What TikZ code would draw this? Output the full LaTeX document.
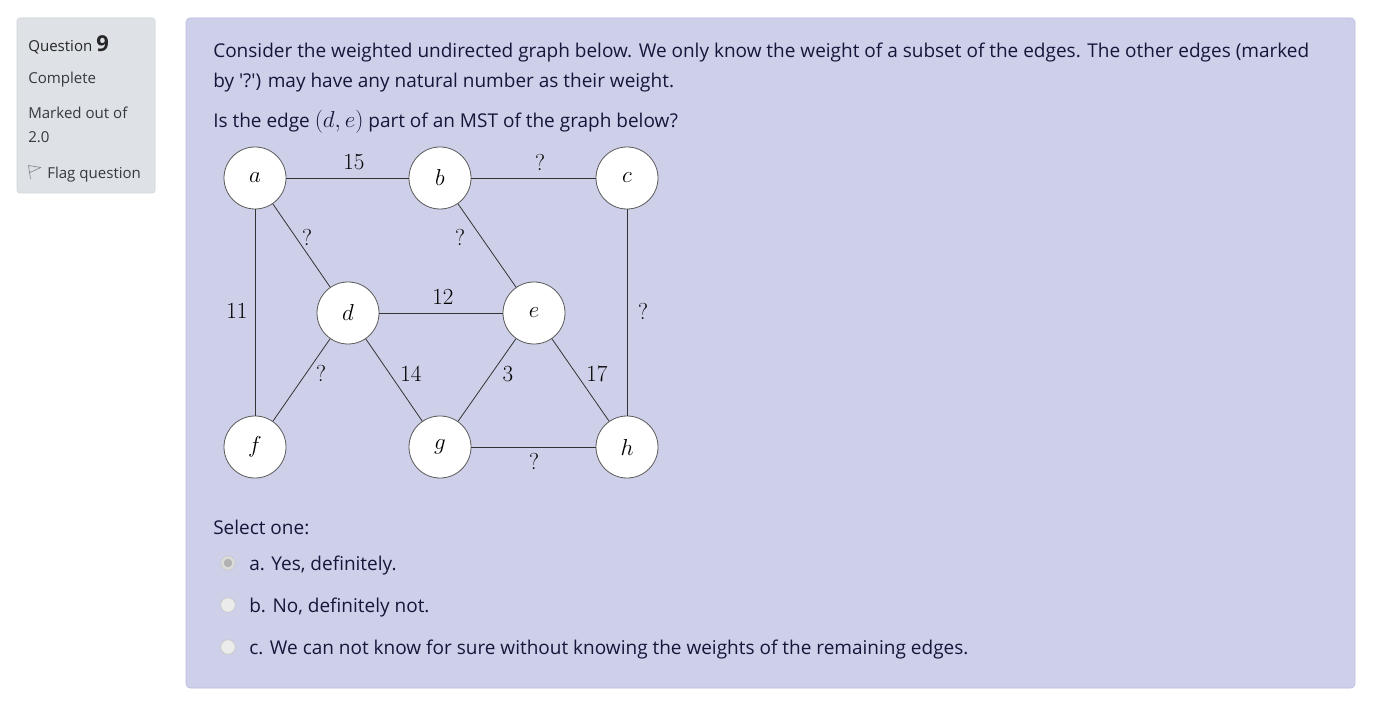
\documentclass[tikz,border=0pt]{standalone}
\usepackage[no-math]{fontspec}
\setmainfont{Open Sans}
\usetikzlibrary{positioning}

\definecolor{qpanel}{RGB}{206,208,234}
\definecolor{qpanelline}{RGB}{184,188,224}
\definecolor{infobox}{RGB}{222,226,230}
\definecolor{infoline}{RGB}{206,212,218}
\definecolor{qtext}{RGB}{22,22,58}
\definecolor{infotext}{RGB}{52,58,64}

\begin{document}
\begin{tikzpicture}[x=0.75pt,y=-0.75pt,
    vertex/.style={circle,draw=black!65,fill=white,line width=0.6pt,
                   minimum size=46.5pt,inner sep=0pt,font=\fontsize{17}{20}\selectfont},
    edge/.style={draw=black!80,line width=0.6pt},
    weight/.style={inner sep=0pt,font=\fontsize{17}{20}\selectfont},
    qline/.style={anchor=base west,inner sep=0pt,text=qtext,font=\fontsize{14.25}{17}\selectfont},
    infoline/.style={anchor=base west,inner sep=0pt,text=infotext,font=\fontsize{11.3}{13}\selectfont},
    radio/.style={circle,draw=black!22,fill=black!8,line width=0.5pt,minimum size=11pt,inner sep=0pt},
    ]

    \useasboundingbox[fill=white] (0,0) rectangle (1387,705);

    % info box on the left
    \draw[fill=infobox,draw=infoline,rounded corners=2pt] (17,18) rectangle (155,193);
    \node[infoline,text=black!85] (qnum) at (28,52) {Question \fontsize{16.5}{18}\selectfont\textbf{9}};
    \node[infoline] (state) at (28,84) {Complete};
    \node[infoline] (mark1) at (28,119) {Marked out of};
    \node[infoline] (mark2) at (28,143) {2.0};
    \draw[infotext!60,line width=0.5pt,line join=round] (30.5,179) -- (28.5,165.5) -- (41,167.5) -- (30,172.5);
    \node[infoline] (flag) at (47,179) {Flag question};

    % question box
    \draw[fill=qpanel,draw=qpanelline,rounded corners=3pt] (186,18) rectangle (1355,688);
    \node[qline] (l1) at (213,57.5) {Consider the weighted undirected graph below. We only know the weight of a subset of the edges. The other edges (marked};
    \node[qline] (l2) at (213,87.5) {by \textquotesingle?\textquotesingle) may have any natural number as their weight.};
    \node[qline] (l3) at (213,127.5) {Is the edge \mbox{\fontsize{17.5}{20}\selectfont$(d,e)$} part of an MST of the graph below?};

    % the graph
    \node[vertex] (a) at (255,178) {$a$};
    \node[vertex] (b) at (440,178) {$b$};
    \node[vertex] (c) at (627,178) {$c$};
    \node[vertex] (d) at (348,313) {$d$};
    \node[vertex] (e) at (534,313) {$e$};
    \node[vertex] (f) at (255,447) {$f$};
    \node[vertex] (g) at (440,447) {$g$};
    \node[vertex] (h) at (627,447) {$h$};

    \draw[edge] (a) -- (b);
    \draw[edge] (b) -- (c);
    \draw[edge] (a) -- (d);
    \draw[edge] (b) -- (e);
    \draw[edge] (a) -- (f);
    \draw[edge] (d) -- (e);
    \draw[edge] (c) -- (h);
    \draw[edge] (d) -- (f);
    \draw[edge] (d) -- (g);
    \draw[edge] (e) -- (g);
    \draw[edge] (e) -- (h);
    \draw[edge] (g) -- (h);

    \node[weight] (wab) at (354,162) {$15$};
    \node[weight] (wbc) at (540,163) {$?$};
    \node[weight] (wad) at (307,238) {$?$};
    \node[weight] (wbe) at (460,238) {$?$};
    \node[weight] (waf) at (237,311) {$11$};
    \node[weight] (wde) at (443,297) {$12$};
    \node[weight] (wch) at (643,312) {$?$};
    \node[weight] (wdf) at (321,374) {$?$};
    \node[weight] (wdg) at (411,374) {$14$};
    \node[weight] (weg) at (508,374) {$3$};
    \node[weight] (weh) at (597,374) {$17$};
    \node[weight] (wgh) at (534,461) {$?$};

    % answers
    \node[qline] (sel) at (213,534.5) {Select one:};
    \node[radio,fill=black!14] (ra) at (228,563) {};
    \fill[black!30] (ra) circle (3.2pt);
    \node[radio] (rb) at (228,605) {};
    \node[radio] (rc) at (228,647) {};
    \node[qline] (oa) at (249,570.5) {a. Yes, definitely.};
    \node[qline] (ob) at (249,612.5) {b. No, definitely not.};
    \node[qline] (oc) at (249,654.5) {c. We can not know for sure without knowing the weights of the remaining edges.};

\end{tikzpicture}
\end{document}
